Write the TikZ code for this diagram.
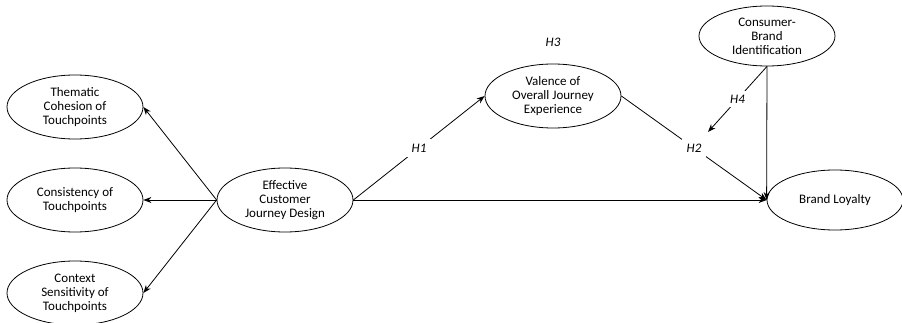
\documentclass[tikz,border=0pt]{standalone}
\usepackage{fontspec}
\setmainfont{Carlito}
\usetikzlibrary{shapes.geometric,arrows.meta}

\tikzset{
  construct/.style={draw, ellipse, line width=0.8pt, minimum width=136pt, minimum height=64pt,
    inner sep=0pt, align=center, font=\fontsize{13}{14}\selectfont},
  hyp/.style={fill=white, inner sep=5pt, font=\fontsize{13}{14}\selectfont\itshape},
  link/.style={-{Stealth[length=8pt,width=6pt]}, line width=0.8pt}
}

\begin{document}
\begin{tikzpicture}[x=1pt,y=-1pt]
        \useasboundingbox (0,0) rectangle (902,323);
        % constructs
        \node[construct] (tc) at (75,107) {Thematic\\Cohesion of\\Touchpoints};
        \node[construct] (ct) at (75,200) {Consistency of\\Touchpoints};
        \node[construct] (cs) at (75,293) {Context\\Sensitivity of\\Touchpoints};
        \node[construct] (ecj) at (285,200) {Effective\\Customer\\Journey Design};
        \node[construct] (voj) at (553,96) {Valence of\\Overall Journey\\Experience};
        \node[construct, minimum height=60pt] (cbi) at (767,36) {Consumer-\\Brand\\Identification};
        \node[construct, minimum height=60pt] (bl) at (835,200) {Brand Loyalty};
        \node[hyp, inner sep=2pt] (h3) at (553,42) {H3};
        % dimensions
        \draw[link] (ecj.west) -- (tc.east);
        \draw[link] (ecj.west) -- (ct.east);
        \draw[link] (ecj.west) -- (cs.east);
        % hypotheses
        \draw[link] (ecj.east) -- node[hyp] (h1) {H1} (voj.west);
        \draw[link] (ecj.east) -- (bl.west);
        \draw[link] (voj.east) -- node[hyp] (h2) {H2} (bl.west);
        \draw[link] (cbi.south) -- (bl.west);
        \coordinate (h2in) at (708,132);
        \draw[link] (cbi.south) -- node[hyp, inner sep=4pt] (h4) {H4} (h2in);
      \end{tikzpicture}
\end{document}
